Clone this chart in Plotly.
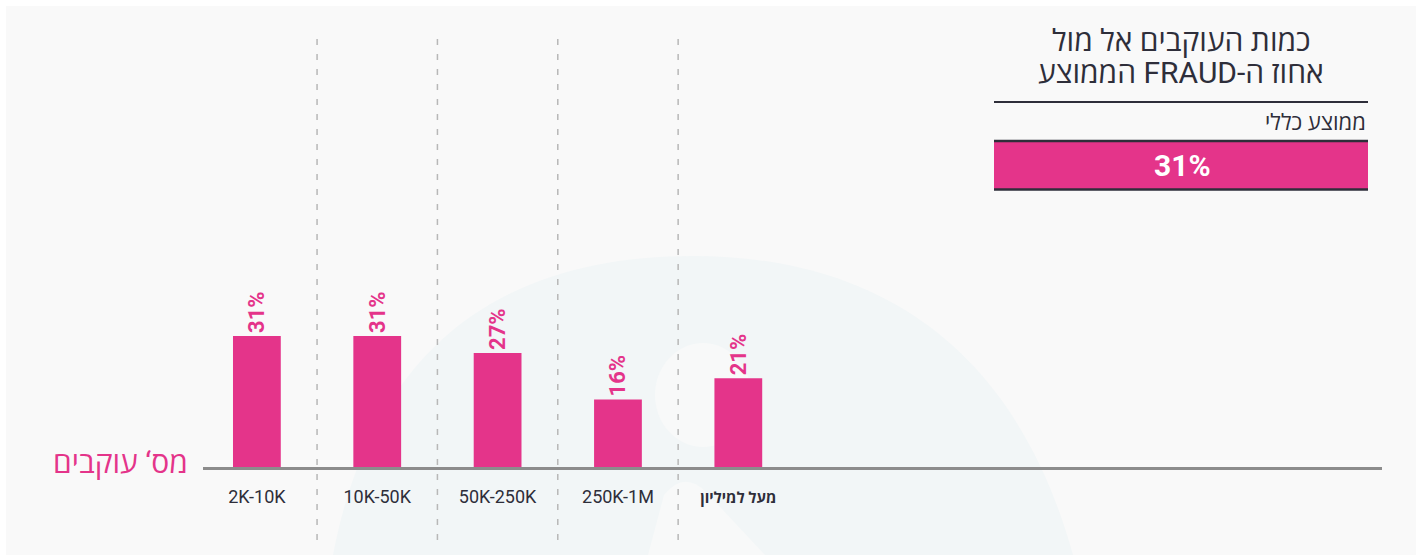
import plotly.graph_objects as go

# ---- data ----
categories = ["2K-10K", "10K-50K", "50K-250K", "250K-1M", "מעל למיליון"]
fraud_pct = [31, 31, 27, 16, 21]
overall_avg = 31

title_line1 = "כמות העוקבים אל מול"
title_line2 = "\u202bאחוז ה-FRAUD הממוצע\u202c"
avg_label = "ממוצע כללי"
y_title = "מס‘ עוקבים"

# ---- styling ----
PINK = "#E4348A"
DARK = "#2E2E3A"
PANEL = "#F9F9F9"
W, H = 1416, 555
ML, MR, MT, MB = 203, 34, 30, 88
PW, PH = W - ML - MR, H - MT - MB
FONT = "Roboto, Open Sans, DejaVu Sans, sans-serif"


def px(x):
    return (x - ML) / PW


def py(y):
    return (H - MB - y) / PH


x_idx = list(range(len(categories)))
tick_text = categories[:-1] + [f"<b><span style='font-size:15px'>{categories[-1]}</span></b>"]

fig = go.Figure()
fig.add_trace(go.Bar(
    x=x_idx,
    y=fraud_pct,
    width=0.397,
    marker=dict(color=PINK, line=dict(width=0)),
    text=[f"<b>{v}%</b>" for v in fraud_pct],
    textposition="outside",
    textangle=-90,
    constraintext="none",
    cliponaxis=False,
    textfont=dict(color=PINK, size=22, family=FONT),
    hoverinfo="skip",
))

shapes = []
# panel background
shapes.append(dict(type="rect", xref="paper", yref="paper",
                   x0=px(6), x1=px(W), y0=py(H), y1=py(6),
                   fillcolor=PANEL, line=dict(width=0), layer="below"))


# faint watermark
def P(x, y):
    return f"{px(x)},{py(y)}"


shapes.append(dict(type="path", xref="paper", yref="paper", layer="below",
                   path=f"M {P(333,555)} C {P(375,335)} {P(515,256)} {P(693,256)} "
                        f"C {P(875,256)} {P(1015,345)} {P(1073,555)} Z",
                   fillcolor="#F2F6F7", line=dict(width=0)))
shapes.append(dict(type="circle", xref="paper", yref="paper", layer="below",
                   x0=px(655), x1=px(751), y0=py(447), y1=py(343),
                   fillcolor="#F8F9F9", line=dict(width=0)))
shapes.append(dict(type="path", xref="paper", yref="paper", layer="below",
                   path=f"M {P(648,555)} L {P(664,495)} Q {P(684,470)} {P(706,492)} L {P(765,555)} Z",
                   fillcolor="#F8F9F9", line=dict(width=0)))

# dashed separators between categories
for i in range(len(categories) - 1):
    shapes.append(dict(type="line", xref="x", yref="paper", layer="below",
                       x0=i + 0.5, x1=i + 0.5, y0=py(540), y1=py(30),
                       line=dict(color="#B8B8B8", width=1.5, dash="6px,9px")))

# title block
shapes.append(dict(type="line", xref="paper", yref="paper",
                   x0=px(994), x1=px(1368), y0=py(102), y1=py(102),
                   line=dict(color=DARK, width=2)))
shapes.append(dict(type="rect", xref="paper", yref="paper",
                   x0=px(994), x1=px(1368), y0=py(190), y1=py(141),
                   fillcolor=PINK, line=dict(width=0)))
for yy in (141, 189.5):
    shapes.append(dict(type="line", xref="paper", yref="paper",
                       x0=px(994), x1=px(1368), y0=py(yy), y1=py(yy),
                       line=dict(color=DARK, width=2.5)))

annotations = [
    dict(text=title_line1, x=px(1181), y=py(40), xref="paper", yref="paper",
         showarrow=False, xanchor="center", yanchor="middle",
         font=dict(size=30, color=DARK, family=FONT)),
    dict(text=title_line2, x=px(1181), y=py(72), xref="paper", yref="paper",
         showarrow=False, xanchor="center", yanchor="middle",
         font=dict(size=30, color=DARK, family=FONT)),
    dict(text=avg_label, x=px(1368), y=py(122), xref="paper", yref="paper",
         showarrow=False, xanchor="right", yanchor="middle",
         font=dict(size=22, color=DARK, family=FONT)),
    dict(text=f"<b>{overall_avg}%</b>", x=px(1182), y=py(165), xref="paper", yref="paper",
         showarrow=False, xanchor="center", yanchor="middle",
         font=dict(size=30, color="white", family=FONT)),
    dict(text=y_title, x=px(190), y=py(462), xref="paper", yref="paper",
         showarrow=False, xanchor="right", yanchor="middle",
         font=dict(size=30, color=PINK, family=FONT)),
]

fig.update_layout(
    width=W, height=H,
    margin=dict(l=ML, r=MR, t=MT, b=MB, pad=0),
    paper_bgcolor="white",
    plot_bgcolor="rgba(0,0,0,0)",
    showlegend=False,
    shapes=shapes,
    annotations=annotations,
    font=dict(family=FONT, color=DARK),
    xaxis=dict(range=[-0.4477, 9.348], tickvals=x_idx, ticktext=tick_text,
               showgrid=False, zeroline=False, showline=True, linecolor="#8C8C8C",
               linewidth=3, ticks="outside", ticklen=11, tickcolor="rgba(0,0,0,0)",
               tickfont=dict(size=18, color=DARK, family=FONT), fixedrange=True),
    yaxis=dict(range=[0, PH / (131 / 31)], showgrid=False, zeroline=False,
               showticklabels=False, showline=False, fixedrange=True),
)

fig.write_html("out.html", config={"displayModeBar": False})
